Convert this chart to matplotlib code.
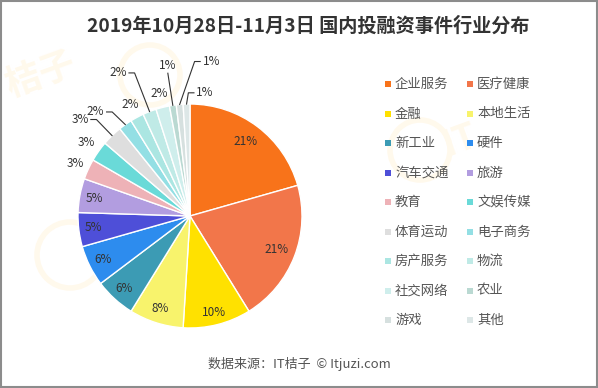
import matplotlib
matplotlib.use("Agg")
import matplotlib.pyplot as plt
import numpy as np
from matplotlib.patches import Rectangle, Circle

plt.rcParams['font.family'] = ['Noto Sans CJK SC', 'DejaVu Sans']

title = "2019年10月28日-11月3日 国内投融资事件行业分布"
source = "数据来源：IT桔子  © Itjuzi.com"

categories = ["企业服务", "医疗健康", "金融", "本地生活", "新工业", "硬件",
              "汽车交通", "旅游", "教育", "文娱传媒", "体育运动", "电子商务",
              "房产服务", "物流", "社交网络", "农业", "游戏", "其他"]
values = [21, 21, 10, 8, 6, 6, 5, 5, 3, 3, 3, 2, 2, 2, 2, 1, 1, 1]
pct_labels = ["21%", "21%", "10%", "8%", "6%", "6%", "5%", "5%", "3%", "3%",
              "3%", "2%", "2%", "2%", "2%", "1%", "1%", "1%"]
colors = ["#F8731A", "#F2764A", "#FFE100", "#F8F36C", "#3C9BB4", "#2D8CEE",
          "#4E4FD8", "#B29DE0", "#EEB2B7", "#6ADAD8", "#DEDEDE", "#93DFE4",
          "#ABE6E2", "#BFEAE6", "#CFEEEC", "#BAD9D2", "#D6E0DF", "#DDE7E7"]

# label styling per slice (radius factor, angle nudge, leader, horizontal direction)
lab_r = [0.83, 0.83, 0.89, 0.87, 0.87, 0.87, 0.87, 0.87, 1.13, 1.13,
         1.20, 1.16, 1.13, 1.37, 1.13, 1.29, 1.38, 1.10]
lab_da = [0] * 11 + [1.5, 0, 0, 0, 0, -7, -1]
leader = [False] * 10 + [True, True, False, True, False, True, True, True]
hdir = [0] * 10 + [-1, -1, 0, -1, 0, 0, 1, 1]

W, H = 598, 388
fig = plt.figure(figsize=(W / 100, H / 100), dpi=100)
fig.patch.set_facecolor("white")

# faint watermark layer
wm = fig.add_axes([0, 0, 1, 1], facecolor="none")
wm.set_xlim(0, W)
wm.set_ylim(H, 0)
wm.axis("off")
wm_col = "#FFF9EC"
for (x, y, s) in [(40, 75, "桔子"), (215, 225, "IT桔子"), (460, 140, "IT")]:
    wm.text(x, y, s, fontsize=26, fontweight="bold", color=wm_col,
            rotation=20, ha="center", va="center")
for (x, y, r) in [(150, 75, 30), (70, 255, 33), (420, 150, 30)]:
    wm.add_patch(Circle((x, y), r, facecolor="none", edgecolor=wm_col, lw=4))

cx, cy, R = 190, 216, 112
ax = fig.add_axes([(cx - R) / W, (H - cy - R) / H, 2 * R / W, 2 * R / H])
wedges, _ = ax.pie(values, colors=colors, startangle=90, counterclock=False,
                   wedgeprops=dict(edgecolor="white", linewidth=1.0))
ax.set_xlim(-1, 1)
ax.set_ylim(-1, 1)
ax.set_aspect("equal")
ax.axis("off")

fs = 8.5
for i, w in enumerate(wedges):
    mid = (w.theta1 + w.theta2) / 2.0
    if not leader[i]:
        a = np.deg2rad(mid + lab_da[i])
        x, y = lab_r[i] * np.cos(a), lab_r[i] * np.sin(a)
        ax.text(x, y, pct_labels[i], ha="center", va="center", fontsize=fs,
                color="#333333")
    else:
        a0 = np.deg2rad(mid)
        ex, ey = np.cos(a0), np.sin(a0)
        a = np.deg2rad(mid + lab_da[i])
        bx, by = lab_r[i] * np.cos(a), lab_r[i] * np.sin(a)
        xs, ys = [ex, bx], [ey, by]
        if hdir[i] != 0:
            hx = bx + 0.05 * hdir[i]
            xs.append(hx)
            ys.append(by)
            ax.plot(xs, ys, color="#333333", lw=0.8, clip_on=False)
            ax.text(hx + 0.02 * hdir[i], by, pct_labels[i],
                    ha="left" if hdir[i] > 0 else "right", va="center",
                    fontsize=fs, color="#333333")
        else:
            ax.plot(xs, ys, color="#333333", lw=0.8, clip_on=False)
            ax.text(bx, by + 0.01, pct_labels[i], ha="center", va="bottom",
                    fontsize=fs, color="#333333")

# overlay in pixel coords
ov = fig.add_axes([0, 0, 1, 1], facecolor="none")
ov.set_xlim(0, W)
ov.set_ylim(H, 0)
ov.axis("off")

ov.text(W / 2 + 9, 26, title, ha="center", va="center", fontsize=13.8,
        fontweight="bold", color="#333333")
ov.text(W / 2, 364, source, ha="center", va="center", fontsize=9.4,
        color="#555555")

col_x = [385, 467]
row_y0, row_dy = 84, 29.5
for i, (c, col) in enumerate(zip(categories, colors)):
    cxl = col_x[i % 2]
    ry = row_y0 + (i // 2) * row_dy
    ov.add_patch(Rectangle((cxl, ry - 3), 6, 6, facecolor=col, edgecolor="none"))
    ov.text(cxl + 10, ry, c, ha="left", va="center", fontsize=9.6,
            color="#555555")

ov.add_patch(Rectangle((0.75, 0.75), W - 1.5, H - 1.5, facecolor="none",
                       edgecolor="#8c8c8c", linewidth=1.5))

fig.savefig("out.png", dpi=100)
